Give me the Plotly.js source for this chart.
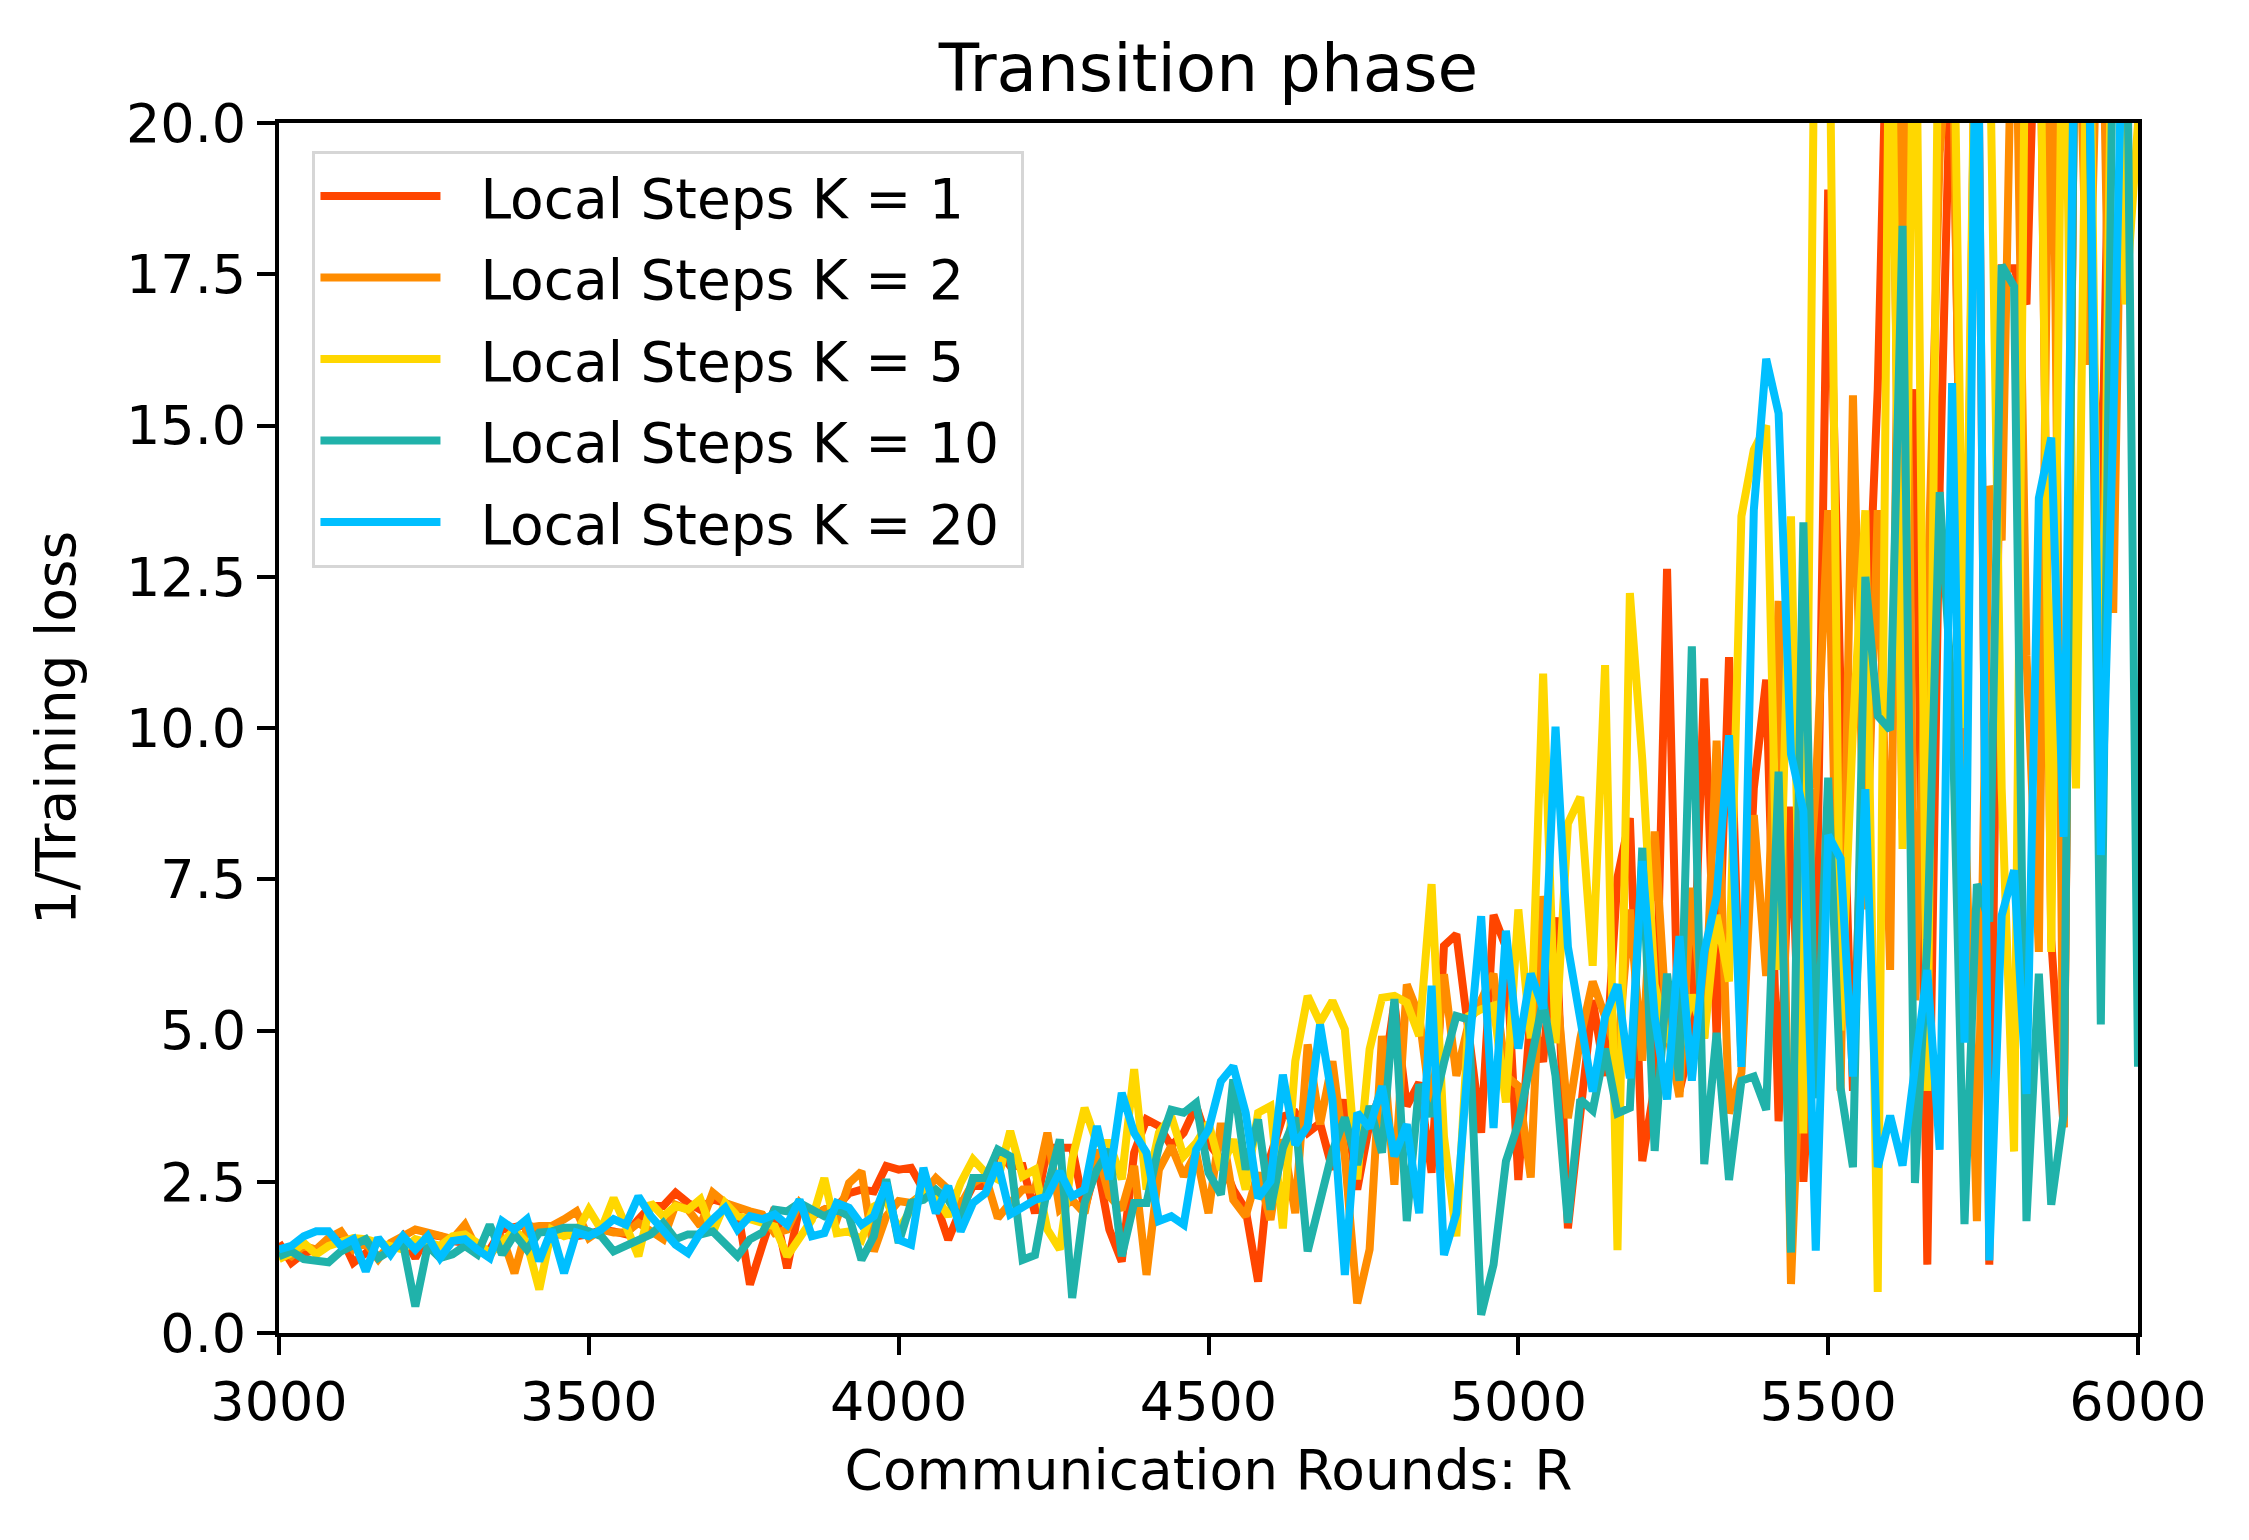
<!DOCTYPE html>
<html>
<head>
<meta charset="utf-8">
<script src="https://cdn.plot.ly/plotly-3.0.1.min.js"></script>
<style>
  html, body { margin: 0; padding: 0; background: #fff; }
  #plot { width: 2249px; height: 1540px; }
</style>
</head>
<body>
<div id="plot"></div>
<script>
// communication rounds, one point every 20 rounds from 3000 to 6000
const rounds = Array.from({ length: 151 }, (_, i) => 3000 + 20 * i);

// 1/training loss (values above 20 are clipped by the axis)
const k1 = [
  1.49, 1.16, 1.32, 1.38, 1.49, 1.60, 1.16, 1.32, 1.27, 1.38, 1.60, 1.24, 1.63, 1.60, 1.52, 1.49, 1.35, 1.38, 1.71, 1.74,
  1.79, 1.71, 1.63, 1.63, 1.60, 1.63, 1.71, 1.68, 1.63, 1.88, 2.10, 2.10, 2.32, 2.15, 2.04, 2.21, 2.15, 2.04, 0.80, 1.45,
  2.07, 1.07, 2.09, 1.93, 2.04, 2.09, 2.31, 2.37, 2.34, 2.76, 2.70, 2.73, 2.37, 2.15, 1.54, 2.04, 2.43, 2.43, 3.03, 2.76,
  2.76, 1.98, 3.06, 3.06, 3.06, 2.04, 2.81, 1.71, 1.18, 2.98, 3.53, 3.42, 3.09, 3.31, 3.75, 3.14, 2.87, 2.37,
  2.04, 0.85, 2.92, 3.58, 3.64, 3.31, 3.47, 2.70, 3.86, 2.37, 3.47, 4.02, 5.46, 3.75, 4.14, 2.65, 6.40, 6.59, 5.02, 3.31,
  6.91, 6.38, 2.53, 5.32, 4.48, 6.87, 1.73, 3.72, 5.50, 4.25, 7.53, 8.51, 2.84, 4.08, 12.63, 4.00, 4.87, 10.82, 4.87, 11.17,
  4.5, 9.0, 10.8, 3.5, 8.7, 2.5, 6.0, 18.9, 10.6, 4.0, 10.6, 15.6, 24, 8.5, 15.6, 1.13, 14.0, 22, 9.0, 24,
  1.13, 17.6, 17.6, 17.0, 24, 6.5, 3.4, 24, 18.5, 13.0, 24, 24, 20
];
const k2 = [
  1.38, 1.27, 1.44, 1.38, 1.57, 1.68, 1.38, 1.49, 1.22, 1.49, 1.60, 1.71, 1.66, 1.60, 1.55, 1.79, 1.38, 1.27, 1.60, 0.99,
  1.74, 1.77, 1.77, 1.88, 2.01, 1.57, 1.71, 1.66, 1.66, 1.82, 1.68, 1.55, 2.12, 2.04, 1.77, 2.32, 2.15, 2.07, 2.01, 1.96,
  1.65, 1.71, 2.15, 1.93, 2.04, 1.87, 2.48, 2.67, 1.35, 1.93, 2.18, 2.15, 2.31, 2.56, 2.37, 2.12, 2.48, 2.59, 1.90, 2.15,
  2.37, 2.37, 3.31, 2.04, 2.20, 1.98, 3.03, 2.26, 2.04, 2.76, 0.96, 2.70, 3.09, 2.59, 2.98, 1.98, 3.47, 2.20,
  1.93, 2.65, 1.87, 3.20, 1.98, 4.77, 3.45, 4.49, 2.92, 0.49, 1.38, 4.91, 2.45, 5.76, 5.24, 3.64, 5.93, 4.25, 5.13, 5.50,
  5.94, 4.25, 4.08, 2.57, 7.22, 5.94, 3.55, 4.87, 5.81, 5.23, 4.61, 7.00, 4.50, 8.29, 5.00, 3.90, 7.36, 4.87, 9.79, 3.63,
  4.3, 8.56, 5.9, 12.1, 0.81, 6.0, 9.0, 13.6, 4.0, 15.5, 7.0, 13.6, 6.0, 24, 5.5, 12.0, 19.5, 22, 9.0, 1.85,
  14.0, 13.1, 24, 11.2, 6.3, 24, 3.4, 24, 16, 24, 11.9, 24, 20
];
const k5 = [
  1.22, 1.32, 1.49, 1.30, 1.44, 1.49, 1.57, 1.55, 1.49, 1.44, 1.38, 1.55, 1.49, 1.44, 1.60, 1.63, 1.49, 1.32, 1.49, 1.71,
  1.49, 0.72, 1.71, 1.60, 1.66, 2.04, 1.71, 2.23, 1.77, 1.27, 2.15, 1.93, 2.10, 2.04, 2.21, 1.66, 2.15, 1.93, 1.88, 1.82,
  1.76, 1.27, 1.60, 1.87, 2.56, 1.65, 1.68, 1.54, 2.09, 2.20, 1.71, 2.04, 2.37, 2.26, 1.93, 2.48, 2.87, 2.65, 2.54, 3.34,
  2.59, 2.70, 1.71, 1.38, 2.87, 3.72, 3.14, 3.14, 2.54, 4.36, 2.37, 3.31, 3.58, 2.92, 3.14, 3.47, 2.70, 3.20,
  2.37, 3.64, 3.75, 1.73, 4.49, 5.57, 5.13, 5.49, 5.02, 2.54, 4.69, 5.54, 5.57, 5.46, 4.91, 7.42, 3.25, 1.60, 5.24, 5.35,
  5.41, 3.81, 7.00, 4.87, 10.90, 4.79, 8.42, 8.86, 6.07, 11.04, 1.37, 12.23, 9.48, 5.76, 4.87, 4.70, 5.59, 4.87, 6.91, 5.81,
  13.5, 14.6, 15.0, 6.0, 13.5, 3.3, 24, 24, 5.0, 10.0, 13.6, 0.68, 24, 8.0, 24, 4.0, 24, 24, 10.0, 24,
  22, 9.0, 3.0, 24, 24, 6.3, 24, 9.0, 24, 8.0, 24, 17.0, 20
];
const k10 = [
  1.27, 1.35, 1.22, 1.19, 1.17, 1.35, 1.44, 1.55, 1.24, 1.38, 1.49, 0.44, 1.44, 1.24, 1.30, 1.44, 1.30, 1.79, 1.30, 1.63,
  1.38, 1.66, 1.68, 1.74, 1.74, 1.68, 1.60, 1.35, 1.44, 1.55, 1.63, 1.82, 1.55, 1.63, 1.63, 1.68, 1.49, 1.27, 1.55, 1.66,
  2.04, 2.01, 2.15, 2.04, 1.93, 2.04, 1.93, 1.21, 1.60, 2.54, 1.49, 2.15, 2.20, 2.37, 2.20, 1.87, 2.56, 2.56, 3.03, 2.92,
  1.21, 1.29, 2.40, 3.20, 0.58, 2.15, 2.70, 3.03, 1.27, 2.15, 2.15, 3.09, 3.69, 3.64, 3.80, 2.65, 2.29, 4.19,
  2.70, 3.53, 2.04, 3.06, 3.56, 1.35, 2.20, 3.00, 3.56, 2.78, 3.75, 2.98, 5.52, 1.85, 4.11, 3.58, 4.47, 5.24, 5.18, 0.30,
  1.13, 2.84, 3.46, 4.43, 5.50, 4.25, 1.82, 3.86, 3.68, 4.70, 3.63, 3.72, 8.02, 3.01, 5.94, 4.17, 11.35, 2.79, 4.96, 2.53,
  4.17, 4.24, 3.69, 9.28, 1.33, 13.4, 3.88, 9.18, 4.05, 2.74, 12.5, 10.2, 9.97, 18.3, 2.48, 6.5, 13.9, 10.5, 1.8, 7.42,
  6.8, 17.65, 17.3, 1.85, 5.94, 2.12, 3.62, 24, 22, 5.1, 22, 24, 4.4
];
const k20 = [
  1.38, 1.44, 1.60, 1.68, 1.68, 1.44, 1.55, 1.02, 1.57, 1.30, 1.60, 1.38, 1.60, 1.24, 1.52, 1.55, 1.38, 1.24, 1.85, 1.71,
  1.88, 1.19, 1.71, 0.99, 1.66, 1.60, 1.71, 1.88, 1.79, 2.26, 1.93, 1.71, 1.46, 1.32, 1.66, 1.88, 2.07, 1.71, 1.93, 1.88,
  1.96, 1.79, 2.20, 1.60, 1.65, 2.15, 2.07, 1.79, 1.93, 2.48, 1.54, 1.46, 2.73, 1.98, 2.43, 1.68, 2.15, 2.31, 2.81, 1.96,
  2.09, 2.20, 2.26, 2.67, 2.26, 2.37, 3.42, 2.54, 3.97, 3.31, 2.98, 1.85, 1.93, 1.79, 3.03, 3.36, 4.16, 4.41,
  3.64, 2.23, 2.51, 4.27, 3.11, 3.42, 5.10, 3.86, 0.96, 3.64, 3.39, 4.08, 2.92, 3.45, 1.98, 5.74, 1.29, 1.98, 4.63, 6.89,
  3.39, 6.65, 4.70, 5.94, 5.36, 10.02, 6.38, 5.23, 3.99, 5.23, 5.76, 4.21, 7.80, 5.23, 3.86, 6.56, 4.17, 6.29, 7.22, 9.88,
  4.4, 13.6, 16.1, 15.2, 9.57, 8.63, 1.36, 8.23, 7.84, 4.24, 8.99, 2.74, 3.59, 2.77, 4.4, 6.0, 3.03, 15.7, 4.8, 24,
  1.2, 6.9, 7.65, 3.95, 13.8, 14.8, 8.2, 24, 22, 7.9, 15, 24, 24
];

const seriesNames = ["Local Steps K = 1", "Local Steps K = 2", "Local Steps K = 5",
                     "Local Steps K = 10", "Local Steps K = 20"];
const seriesColors = ["#FF4500", "#FF8C00", "#FFD700", "#20B2AA", "#00BFFF"];
const seriesValues = [k1, k2, k5, k10, k20];

const xTicks = [3000, 3500, 4000, 4500, 5000, 5500, 6000];
const yTicks = [0, 2.5, 5, 7.5, 10, 12.5, 15, 17.5, 20];

// nbsp padding pushes legend text away from the line sample, like matplotlib
const pad = "\u00A0\u00A0";

const traces = seriesValues.map((vals, i) => ({
    x: rounds,
    y: vals,
    name: pad + seriesNames[i] + "\u00A0",
    legendgroup: "g" + i,
    mode: "lines",
    type: "scatter",
    line: { color: seriesColors[i], width: 8 }
}));

const axisStyle = {
    showline: true,
    mirror: true,
    linecolor: "#000",
    linewidth: 4,
    ticks: "outside",
    ticklen: 18,
    tickwidth: 4,
    tickcolor: "#000",
    showgrid: false,
    zeroline: false,
    tickfont: { size: 54, color: "#000" }
};

const layout = {
    width: 2249,
    height: 1540,
    font: { family: "DejaVu Sans", color: "#000", size: 54 },
    paper_bgcolor: "#fff",
    plot_bgcolor: "#fff",
    margin: { l: 279, r: 111, t: 123, b: 207 },
    title: {
        text: "Transition phase",
        font: { size: 66 },
        x: 0.5, xref: "paper", xanchor: "center",
        y: 1 - 68 / 1540, yref: "container", yanchor: "middle"
    },
    xaxis: Object.assign({}, axisStyle, {
        range: [3000, 6000],
        tickvals: xTicks,
        ticktext: xTicks.map(String),
        title: { text: "Communication Rounds: R", font: { size: 55 }, standoff: 20 }
    }),
    yaxis: Object.assign({}, axisStyle, {
        range: [0, 20],
        tickvals: yTicks,
        ticktext: yTicks.map(v => v.toFixed(1)),
        title: { text: "1/Training loss", font: { size: 55 }, standoff: 34 }
    }),
    showlegend: true,
    legend: {
        x: 0.018, y: 0.977, xanchor: "left", yanchor: "top",
        bgcolor: "rgba(255,255,255,0.8)",
        bordercolor: "#d6d6d6",
        borderwidth: 3,
        font: { size: 55 },
        itemwidth: 120,
        tracegroupgap: 7
    }
};

Plotly.newPlot("plot", traces, layout, { staticPlot: true });
</script>
</body>
</html>
